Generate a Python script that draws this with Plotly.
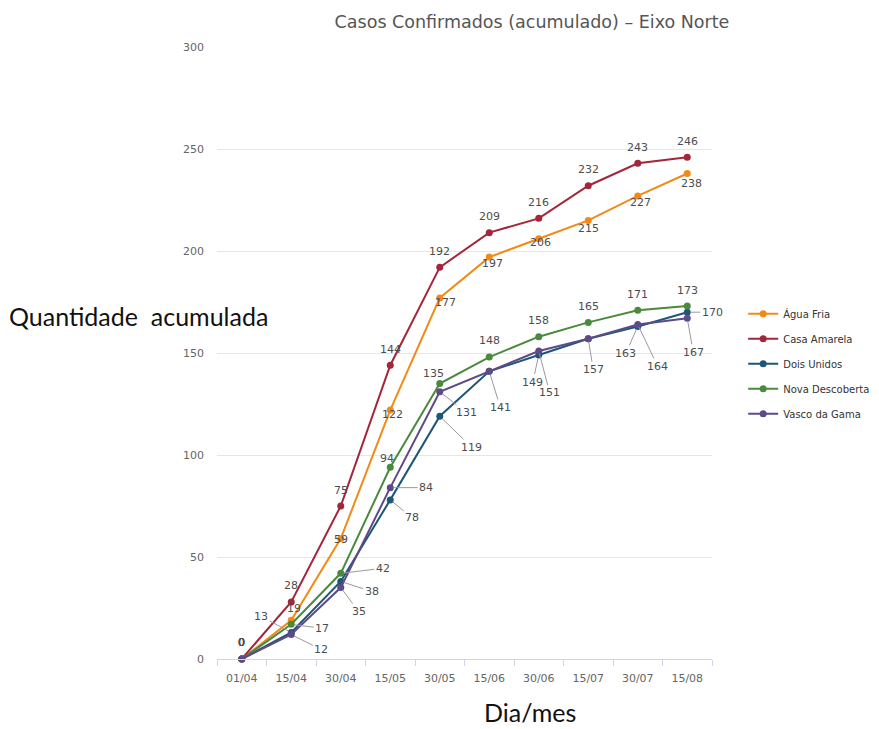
import plotly.graph_objects as go

# ---------------- data ----------------
dates = ["01/04", "15/04", "30/04", "15/05", "30/05", "15/06", "30/06", "15/07", "30/07", "15/08"]

agua_fria = [0, 19, 59, 122, 177, 197, 206, 215, 227, 238]
casa_amarela = [0, 28, 75, 144, 192, 209, 216, 232, 243, 246]
dois_unidos = [0, 13, 38, 78, 119, 141, 149, 157, 163, 170]
nova_descoberta = [0, 17, 42, 94, 135, 148, 158, 165, 171, 173]
vasco_da_gama = [0, 12, 35, 84, 131, 141, 151, 157, 164, 167]

series_names = ["Água Fria", "Casa Amarela", "Dois Unidos", "Nova Descoberta", "Vasco da Gama"]
series_values = [agua_fria, casa_amarela, dois_unidos, nova_descoberta, vasco_da_gama]
series_colors = ["#F28A17", "#A3263A", "#1D5678", "#4A8A3C", "#5E4A88"]

# ---------------- label placement (pixel offsets, screen coords: +dy = down) ----------------
U = (0, -16, False)
label_place = {
    "Água Fria": [(0, -17, False), (3, -12, False), (0, 1, False), (2, 4, False), (6, 5, False),
                  (3, 6, False), (2, 4, False), (0, 8, False), (3, 7, False), (4, 10, False)],
    "Casa Amarela": [(0, -17, False)] + [U] * 9,
    "Dois Unidos": [(0, -17, False), (-30, -16, True), (31, 10, True), (22, 18, True), (32, 31, True),
                    (11, 36, True), (-6, 27, True), (5, 31, True), (-12, 27, True), (25, 0, True)],
    "Nova Descoberta": [(0, -17, False), (31, 4, True), (42, -5, True), (-3, -9, False), (-6, -10, False),
                        (0, -17, False), U, U, U, U],
    "Vasco da Gama": [(0, -17, False), (30, 15, True), (18, 24, True), (36, 0, True), (27, 21, True),
                      None, (11, 42, True), None, (20, 42, True), (6, 34, True)],
}

LABEL_FONT = dict(family="DejaVu Sans", size=11, color="#4d4d4d")

fig = go.Figure()
annotations = []

for name, vals, col in zip(series_names, series_values, series_colors):
    fig.add_trace(go.Scatter(
        x=dates, y=vals, name=name, mode="lines+markers",
        line=dict(color=col, width=2),
        marker=dict(color=col, size=7, symbol="circle"),
        legendgroup=name,
        cliponaxis=False,
    ))
    for i, (d, v) in enumerate(zip(dates, vals)):
        p = label_place[name][i]
        if p is None:
            continue
        dx, dy, leader = p
        if leader:
            annotations.append(dict(
                x=d, y=v, xref="x", yref="y", text=str(v), showarrow=True,
                arrowhead=0, arrowwidth=1, arrowcolor="#9a9a9a", standoff=3,
                ax=dx, ay=dy, font=LABEL_FONT,
            ))
        else:
            annotations.append(dict(
                x=d, y=v, xref="x", yref="y", text=str(v), showarrow=False,
                xshift=dx, yshift=-dy, font=LABEL_FONT,
            ))

# axis titles (horizontal, outside the plot)
annotations.append(dict(
    text="Quantidade\u00a0 acumulada", xref="paper", yref="paper",
    x=(138 - 217) / 495, y=(659 - 316) / 612, xanchor="center", yanchor="middle",
    showarrow=False, font=dict(family="Lato", size=25, color="#111111"),
))
annotations.append(dict(
    text="Dia/mes", xref="paper", yref="paper",
    x=(530 - 217) / 495, y=-70 / 612, xanchor="center", yanchor="bottom",
    showarrow=False, font=dict(family="Lato", size=25, color="#111111"),
))

fig.update_layout(
    width=879, height=729,
    margin=dict(l=217, r=167, t=47, b=70, autoexpand=False),
    paper_bgcolor="white", plot_bgcolor="white",
    title=dict(text="Casos Confirmados (acumulado) – Eixo Norte",
               x=532 / 879, xref="container", xanchor="center",
               y=1 - 22 / 729, yref="container", yanchor="middle",
               font=dict(family="DejaVu Sans", size=17.5, color="#555555")),
    xaxis=dict(
        type="category", categoryorder="array", categoryarray=dates,
        range=[-0.5, 9.5], showgrid=False, zeroline=False,
        showline=True, linecolor="#ccd6eb", linewidth=1,
        ticks="outside", tickson="boundaries", ticklen=6, tickcolor="#ccd6eb",
        tickfont=dict(family="DejaVu Sans", size=11, color="#666666"),
        ticklabelstandoff=9,
    ),
    yaxis=dict(
        range=[0, 300], dtick=50, tick0=0,
        showgrid=True, gridcolor="#e6e6e6", gridwidth=1,
        zeroline=False, showline=False, ticks="",
        tickfont=dict(family="DejaVu Sans", size=11, color="#666666"),
        ticklabelstandoff=12,
    ),
    legend=dict(
        x=1.063, y=0.588, xanchor="left", yanchor="top",
        font=dict(family="DejaVu Sans", size=10, color="#333333"),
        tracegroupgap=6, itemwidth=30, bgcolor="rgba(0,0,0,0)",
    ),
    showlegend=True,
    annotations=annotations,
)

fig.write_html("out.html", config={"displayModeBar": False},
               post_script="document.body.style.margin='0px';")
